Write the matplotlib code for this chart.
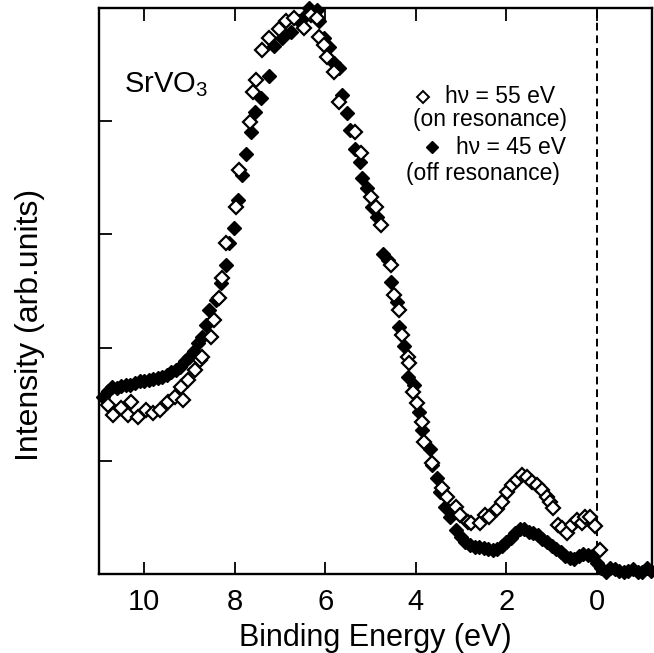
import matplotlib
matplotlib.use("Agg")
import matplotlib.pyplot as plt

plt.rcParams['font.family'] = ['Liberation Sans', 'DejaVu Sans']
plt.rcParams['mathtext.fontset'] = 'custom'
plt.rcParams['mathtext.rm'] = 'Liberation Sans'

# hv = 45 eV (off resonance), filled diamonds
off_energy = [10.90, 10.80, 10.70, 10.60, 10.50, 10.40, 10.30, 10.20, 10.10, 10.00,
              9.90, 9.80, 9.70, 9.60, 9.50, 9.40, 9.30, 9.20, 9.10, 9.00,
              8.90, 8.80, 8.72, 8.64, 8.56, 8.41, 8.30, 8.19, 8.12, 8.01,
              7.92, 7.83, 7.74, 7.63, 7.55, 7.41, 7.25, 7.12, 6.95, 6.75,
              6.57, 6.42, 6.35, 6.19, 6.13, 6.02, 5.91, 5.80, 5.69, 5.63,
              5.52, 5.46, 5.35, 5.24, 5.18, 5.07, 4.96, 4.85, 4.73, 4.62,
              4.54, 4.42, 4.36, 4.25, 4.18, 4.03, 3.92, 3.85, 3.69, 3.65,
              3.54, 3.47, 3.36, 3.25, 3.10, 3.00, 2.90, 2.80, 2.70, 2.60,
              2.50, 2.40, 2.30, 2.20, 2.10, 2.00, 1.90, 1.80, 1.70, 1.60,
              1.50, 1.40, 1.30, 1.20, 1.10, 1.00, 0.90, 0.80, 0.70, 0.60,
              0.50, 0.40, 0.30, 0.20, 0.10, 0.00, -0.10, -0.20, -0.30, -0.40,
              -0.50, -0.60, -0.70, -0.80, -0.90, -1.00, -1.10, -1.20]
off_intensity = [1.56, 1.62, 1.65, 1.64, 1.66, 1.67, 1.67, 1.69, 1.70, 1.70,
                 1.71, 1.72, 1.73, 1.74, 1.76, 1.78, 1.80, 1.83, 1.88, 1.92,
                 1.97, 2.04, 2.09, 2.20, 2.33, 2.42, 2.57, 2.73, 2.92, 3.06,
                 3.30, 3.52, 3.71, 3.90, 4.08, 4.20, 4.40, 4.66, 4.73, 4.79,
                 4.88, 4.94, 5.00, 4.98, 4.88, 4.73, 4.65, 4.51, 4.47, 4.23,
                 4.07, 3.92, 3.75, 3.64, 3.50, 3.41, 3.24, 3.15, 2.83, 2.77,
                 2.58, 2.40, 2.18, 2.01, 1.74, 1.67, 1.43, 1.27, 1.10, 0.96,
                 0.85, 0.72, 0.59, 0.50, 0.39, 0.33, 0.28, 0.26, 0.24, 0.24,
                 0.23, 0.22, 0.21, 0.22, 0.25, 0.28, 0.32, 0.36, 0.40, 0.40,
                 0.37, 0.36, 0.34, 0.31, 0.28, 0.25, 0.22, 0.19, 0.16, 0.14,
                 0.13, 0.16, 0.18, 0.17, 0.16, 0.10, 0.05, 0.02, 0.05, 0.04,
                 0.03, 0.02, 0.03, 0.04, 0.02, 0.02, 0.05, 0.03]

# hv = 55 eV (on resonance), open diamonds
on_energy = [10.80, 10.68, 10.50, 10.35, 10.29, 10.13, 9.96, 9.80, 9.65, 9.47,
             9.31, 9.18, 9.14, 9.03, 8.87, 8.76, 8.72, 8.52, 8.45, 8.34,
             8.27, 8.19, 7.96, 7.90, 7.65, 7.59, 7.52, 7.39, 7.23, 7.01,
             6.86, 6.68, 6.46, 6.31, 6.19, 6.13, 6.02, 5.95, 5.80, 5.69,
             5.35, 5.20, 4.98, 4.87, 4.76, 4.54, 4.47, 4.36, 4.31, 4.18,
             4.14, 4.07, 3.98, 3.87, 3.81, 3.63, 3.43, 3.30, 3.10, 3.03,
             2.85, 2.77, 2.59, 2.48, 2.37, 2.21, 2.10, 1.99, 1.88, 1.77,
             1.66, 1.55, 1.44, 1.33, 1.22, 1.11, 1.04, 0.97, 0.86, 0.77,
             0.66, 0.55, 0.44, 0.33, 0.27, 0.15, 0.04, -0.07]
on_intensity = [1.49, 1.40, 1.47, 1.40, 1.52, 1.39, 1.45, 1.42, 1.45, 1.52,
                1.56, 1.65, 1.54, 1.71, 1.80, 1.89, 1.92, 2.09, 2.24, 2.44,
                2.61, 2.92, 3.24, 3.57, 3.99, 4.26, 4.36, 4.63, 4.73, 4.81,
                4.88, 4.91, 4.82, 4.94, 4.91, 4.74, 4.67, 4.57, 4.43, 4.17,
                3.90, 3.72, 3.33, 3.24, 3.08, 2.73, 2.46, 2.33, 2.11, 1.92,
                1.86, 1.61, 1.51, 1.34, 1.17, 0.98, 0.76, 0.68, 0.59, 0.52,
                0.46, 0.45, 0.45, 0.52, 0.50, 0.57, 0.64, 0.72, 0.79, 0.83,
                0.87, 0.86, 0.81, 0.79, 0.74, 0.68, 0.64, 0.58, 0.43, 0.41,
                0.36, 0.43, 0.48, 0.45, 0.50, 0.50, 0.42, 0.21]

x_ticks = [10, 8, 6, 4, 2, 0]
y_ticks = [1, 2, 3, 4]

fig = plt.figure(figsize=(6.54, 6.53), dpi=100)
ax = fig.add_axes([0.151, 0.121, 0.846, 0.867])

ax.axvline(0, color='black', lw=1.4, ls=(0, (4, 2.5)), zorder=1)

ax.plot(off_energy, off_intensity, ls='none', marker='D', ms=7.3,
        mfc='black', mec='black', mew=1.0, clip_on=False, zorder=3)
ax.plot(on_energy, on_intensity, ls='none', marker='D', ms=7.3,
        mfc='white', mec='black', mew=1.6, clip_on=False, zorder=4)

ax.set_xlim(11.0, -1.22)
ax.set_ylim(0, 5.0)
ax.set_xticks(x_ticks)
ax.set_yticks(y_ticks)
ax.set_yticklabels([])
ax.tick_params(axis='both', direction='in', length=9, width=1.3,
               labelsize=21, pad=10, top=True, right=False)
for sp in ax.spines.values():
    sp.set_linewidth(1.7)

ax.set_xlabel('Binding Energy (eV)', fontsize=22, labelpad=5)
ax.set_ylabel('Intensity (arb.units)', fontsize=23)
ax.yaxis.set_label_coords(-0.098, 0.44)

ax.text(0.045, 0.865, 'SrVO$_3$', transform=ax.transAxes, fontsize=21,
        ha='left', va='center')

# legend drawn by hand
ax.plot([0.586], [0.843], transform=ax.transAxes, marker='D', ms=6,
        mfc='white', mec='black', mew=1.4, ls='none', clip_on=False)
ax.text(0.626, 0.843, 'h\u03bd = 55 eV', transform=ax.transAxes, fontsize=16.5,
        ha='left', va='center')
ax.text(0.707, 0.802, '(on resonance)', transform=ax.transAxes, fontsize=16.5,
        ha='center', va='center')
ax.plot([0.602], [0.754], transform=ax.transAxes, marker='D', ms=6.3,
        mfc='black', mec='black', ls='none', clip_on=False)
ax.text(0.646, 0.754, 'h\u03bd = 45 eV', transform=ax.transAxes, fontsize=16.5,
        ha='left', va='center')
ax.text(0.695, 0.708, '(off resonance)', transform=ax.transAxes, fontsize=16.5,
        ha='center', va='center')

fig.savefig('out.png', dpi=100)
